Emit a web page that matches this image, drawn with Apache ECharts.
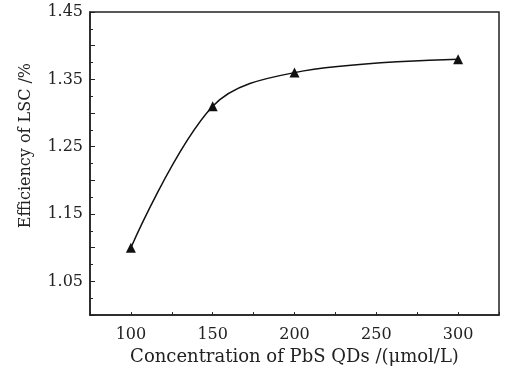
<!DOCTYPE html>
<html>
<head>
<meta charset="utf-8">
<script src="https://cdn.jsdelivr.net/npm/echarts@6/dist/echarts.min.js"></script>
<style>
html, body { margin: 0; padding: 0; background: #fff; }
#chart { width: 509px; height: 371px; }
</style>
</head>
<body>
<div id="chart"></div>
<script>
// concentration of PbS QDs (umol/L) vs LSC efficiency (%)
const concentrations = [100, 150, 200, 300];
const efficiency = [1.10, 1.31, 1.36, 1.38];

const font = 'DejaVu Serif';
const chart = echarts.init(document.getElementById('chart'));

chart.setOption({
  animation: false,
  backgroundColor: '#fff',
  grid: {
    left: 90, right: 10, top: 12, bottom: 54,
    show: true, borderColor: '#222', borderWidth: 1.5
  },
  xAxis: {
    type: 'value',
    min: 75, max: 325, interval: 25,
    name: 'Concentration of PbS QDs /(\u03bcmol/L)',
    nameLocation: 'middle',
    nameGap: 32,
    nameTextStyle: { fontFamily: font, fontSize: 18, color: '#222' },
    axisLine: { lineStyle: { color: '#222', width: 1.5 } },
    axisTick: {
      inside: true, length: 3, lineStyle: { color: '#222' },
      interval: 0
    },
    splitLine: { show: false },
    axisLabel: {
      fontFamily: font, fontSize: 16, color: '#222', margin: 12,
      formatter: function (v) { return v % 50 === 0 ? String(v) : ''; }
    }
  },
  yAxis: {
    type: 'value',
    min: 1.0, max: 1.45, interval: 0.05,
    name: 'Efficiency of LSC /%',
    nameLocation: 'middle',
    nameGap: 56,
    nameTextStyle: { fontFamily: font, fontSize: 16, color: '#222', padding: [0, 0, 0, 36] },
    axisLine: { lineStyle: { color: '#222', width: 1.5 } },
    axisTick: { inside: true, length: 5, lineStyle: { color: '#222' } },
    minorTick: { show: true, splitNumber: 2, length: 3, lineStyle: { color: '#222' } },
    splitLine: { show: false },
    axisLabel: {
      fontFamily: font, fontSize: 16, color: '#222', margin: 7,
      formatter: function (v) {
        return Math.round(v * 100) % 10 === 5 ? v.toFixed(2) : '';
      }
    }
  },
  series: [{
    type: 'line',
    data: concentrations.map(function (c, i) { return [c, efficiency[i]]; }),
    smooth: 0.35,
    symbol: 'triangle',
    symbolSize: 10,
    itemStyle: { color: '#111' },
    lineStyle: { color: '#111', width: 1.5 }
  }]
});
</script>
</body>
</html>
